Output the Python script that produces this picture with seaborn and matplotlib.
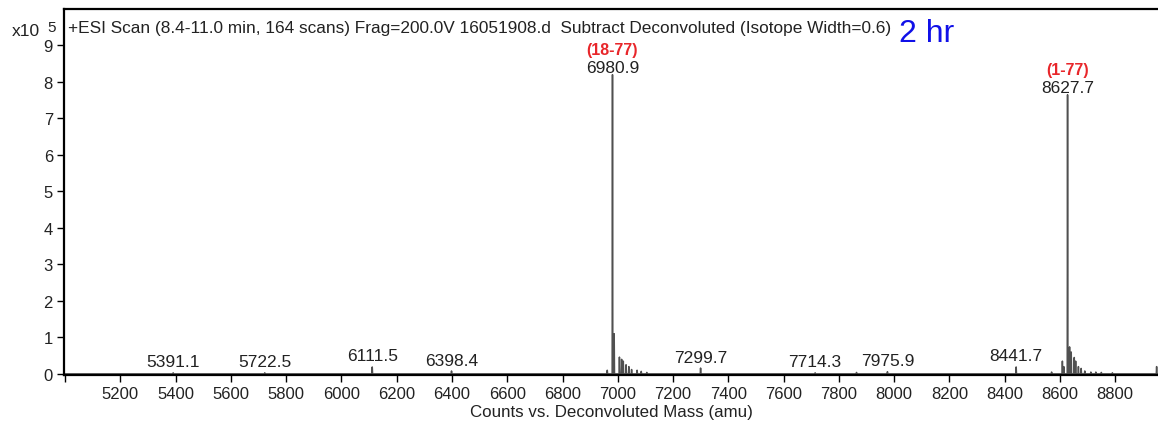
import matplotlib
matplotlib.use("Agg")
import matplotlib.pyplot as plt
import seaborn as sns
import pandas as pd

# Labelled peaks: deconvoluted mass (amu) and intensity (x10^5 counts)
label_mass = [5391.1, 5722.5, 6111.5, 6398.4, 6980.9, 7299.7, 7714.3, 7975.9, 8441.7, 8627.7]
label_int = [0.03, 0.03, 0.19, 0.08, 8.20, 0.16, 0.03, 0.06, 0.19, 7.65]

# Unlabelled minor peaks (adducts / noise around the main species)
minor_mass = [6962, 6987, 7006, 7014, 7020, 7030, 7040, 7050, 7070, 7085, 7105,
              7864, 8570, 8609, 8614, 8635, 8641, 8652, 8657, 8667, 8677, 8690,
              8712, 8730, 8750, 8790, 8950]
minor_int = [0.10, 1.10, 0.46, 0.40, 0.35, 0.25, 0.20, 0.12, 0.10, 0.07, 0.04,
             0.04, 0.05, 0.35, 0.20, 0.74, 0.60, 0.45, 0.35, 0.20, 0.15, 0.08,
             0.05, 0.05, 0.04, 0.03, 0.20]

species = {6980.9: "(18-77)", 8627.7: "(1-77)"}

x_ticks = list(range(5000, 9000, 200))
y_ticks = list(range(0, 10))

# Build a stick-profile trace: each peak rises from the baseline and falls back
peaks = sorted(zip(label_mass + minor_mass, label_int + minor_int))
trace_x, trace_y = [4996.0], [0.0]
for m, h in peaks:
    trace_x += [m - 1.2, m, m + 1.2]
    trace_y += [0.0, h, 0.0]
trace_x.append(8960.0)
trace_y.append(0.0)
spectrum = pd.DataFrame({"mass": trace_x, "counts": trace_y})

sns.set_theme(style="ticks")
plt.rcParams["font.family"] = ["Liberation Sans", "DejaVu Sans"]

fig = plt.figure(figsize=(11.58, 4.27), dpi=100)
ax = fig.add_axes([64 / 1158, 1 - 376 / 427, 1 - 64 / 1158, 366 / 427])

sns.lineplot(data=spectrum, x="mass", y="counts", ax=ax, color="#505050",
             linewidth=1.1, estimator=None, sort=False)

ax.set_xlim(4996, 8955)
ax.set_ylim(-0.03, 10.0)
ax.set_xticks(x_ticks)
ax.set_xticklabels(["" if t == 5000 else str(t) for t in x_ticks])
ax.set_yticks(y_ticks)
ax.tick_params(axis="both", direction="out", length=5, width=1, color="black",
               labelsize=12, labelcolor="#222222", pad=3)
for side in ("left", "bottom", "top"):
    ax.spines[side].set_color("black")
    ax.spines[side].set_linewidth(1.6)
ax.spines["right"].set_visible(False)
ax.set_xlabel("Counts vs. Deconvoluted Mass (amu)", fontsize=12.2, color="#222222", labelpad=2)
ax.set_ylabel("")

for m, h in zip(label_mass, label_int):
    # tall species peaks carry their label right at the apex, minor peaks just above it
    lift = 0 if m in species else 2.5
    ax.annotate(f"{m:.1f}", xy=(m, h), xytext=(0, lift), textcoords="offset points",
                ha="center", va="bottom", fontsize=12.5, color="#222222")
    if m in species:
        ax.annotate(species[m], xy=(m, h), xytext=(0, lift + 13), textcoords="offset points",
                    ha="center", va="bottom", fontsize=11.5, color="#e8262a",
                    fontweight="bold")

ax.text(0.004, 1 - 18 / 366, "+ESI Scan (8.4-11.0 min, 164 scans) Frag=200.0V 16051908.d  "
        "Subtract Deconvoluted (Isotope Width=0.6)", transform=ax.transAxes,
        ha="left", va="center", fontsize=12.4, color="#222222")
ax.text((899 - 64) / 1094, 1 - 24 / 366, "2 hr", transform=ax.transAxes, ha="left",
        va="center", fontsize=23, color="#1010e8")

fig.text(12 / 1158, 1 - 36 / 427, "x10", ha="left", va="baseline", fontsize=12.5, color="#222222")
fig.text(47 / 1158, 1 - 32 / 427, "5", ha="left", va="baseline", fontsize=11, color="#222222")

fig.savefig("out.png", dpi=100)
